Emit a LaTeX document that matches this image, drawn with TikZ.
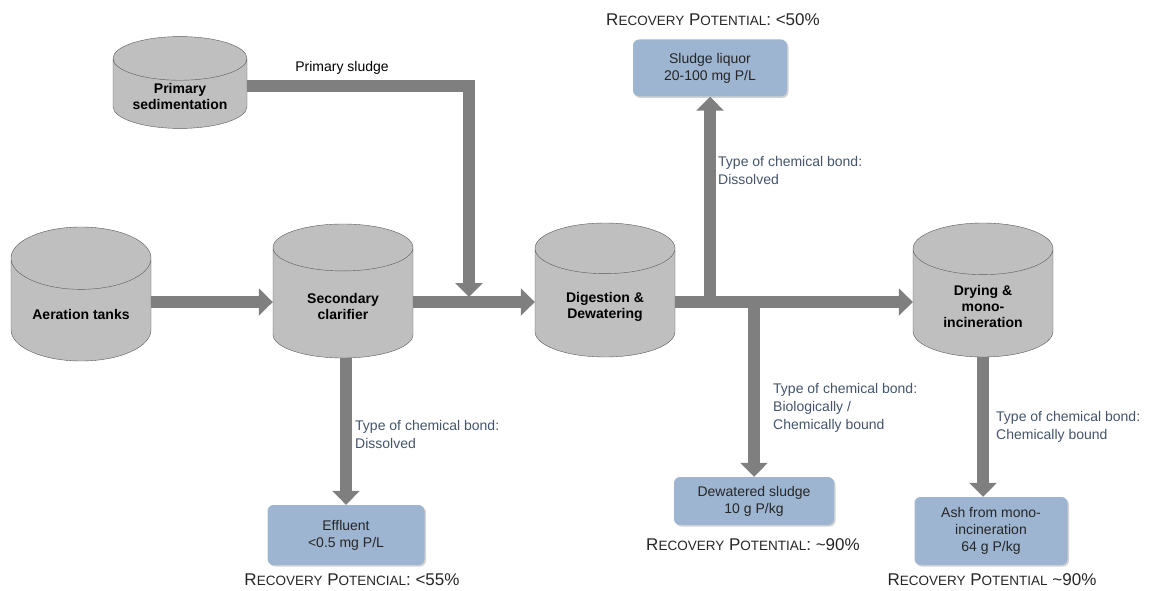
\documentclass[tikz,border=0pt]{standalone}
\usepackage{fontspec}
\setmainfont{Liberation Sans}
\usetikzlibrary{arrows.meta,shapes.geometric,shadows,positioning}
\definecolor{tankgray}{HTML}{BFBFBF}
\definecolor{tankline}{HTML}{595959}
\definecolor{flowgray}{HTML}{7F7F7F}
\definecolor{boxblue}{HTML}{9DB5D1}
\definecolor{bondblue}{HTML}{44546A}
\newcommand{\bigsc}{\fontsize{17}{20}\selectfont}
\newcommand{\smallsc}{\fontsize{13.5}{16}\selectfont}

\begin{document}
\begin{tikzpicture}[x=1pt,y=-1pt,
    tank/.style={cylinder, shape border rotate=90, aspect=0.6, draw=tankline, fill=tankgray,
      minimum width=140pt, minimum height=134pt, align=center,
      font=\fontsize{14}{16}\selectfont\bfseries, anchor=shape center},
    store/.style={rectangle, rounded corners=6pt, fill=boxblue,
      drop shadow={opacity=0.35, shadow xshift=1.5pt, shadow yshift=-1.5pt},
      align=center, font=\fontsize{14}{17}\selectfont, text=black!85},
    bond/.style={anchor=north west, align=left, text=bondblue,
      font=\fontsize{14}{18}\selectfont, inner sep=0pt},
    recov/.style={font=\bigsc, text=black!85},
    flow/.style={draw=flowgray, line width=12pt, -{Triangle[width=27pt,length=14pt]}}]
  \useasboundingbox (0,0) rectangle (1151,591);

  % tanks
  \node[tank, minimum width=134pt, minimum height=89pt, aspect=0.43] (prim) at (180,82.5) {Primary\\sedimentation};
  \node[tank] (aer) at (81,294) {Aeration tanks};
  \node[tank] (sec) at (343,291) {Secondary\\clarifier};
  \node[tank] (dig) at (605,290) {Digestion \&\\Dewatering};
  \node[tank] (dry) at (983,290) {Drying \&\\mono-\\incineration};

  % products
  \node[store, minimum width=154pt, minimum height=57pt] (liquor) at (710,68) {Sludge liquor\\20-100 mg P/L};
  \node[store, minimum width=157pt, minimum height=60pt] (eff) at (346,535) {Effluent\\<0.5 mg P/L};
  \node[store, minimum width=160pt, minimum height=48pt] (dew) at (754,501) {Dewatered sludge\\10 g P/kg};
  \node[store, minimum width=153pt, minimum height=68pt] (ash) at (991,531) {Ash from mono-\\incineration\\64 g P/kg};

  % recovery potential
  \node[recov] (liquorrp) at (713,20) {R{\smallsc ECOVERY} P{\smallsc OTENTIAL}: <50\%};
  \node[recov] (dewrp) at (753,545) {R{\smallsc ECOVERY} P{\smallsc OTENTIAL}: \textasciitilde 90\%};
  \node[recov] (effrp) at (352,580) {R{\smallsc ECOVERY} P{\smallsc OTENCIAL}: <55\%};
  \node[recov] (ashrp) at (992,580) {R{\smallsc ECOVERY} P{\smallsc OTENTIAL} \textasciitilde 90\%};

  % flows
  \coordinate (mainline) at (0,302);
  \coordinate (sludgeline) at (0,86);
  \coordinate (merge) at (469,297);
  \draw[flow] (aer.east |- mainline) -- (sec.west |- mainline);
  \draw[flow] (sec.east |- mainline) -- (dig.west |- mainline);
  \draw[flow] (dig.east |- mainline) -- (dry.west |- mainline);
  \draw[flow] (prim.east |- sludgeline) -| (merge);
  \draw[flow] (liquor.south |- mainline) -- (liquor.south);
  \draw[flow] (dew.north |- mainline) -- (dew.north);
  \draw[flow] (eff.north |- sec.south) -- (eff.north);
  \draw[flow] (dry.south) -- (dry.south |- ash.north);

  % labels
  \node[font=\fontsize{14}{17}\selectfont] (sludgelbl) at (342,68) {Primary sludge};
  \node[bond] (liquorbond) at (718,156) {Type of chemical bond:\\Dissolved};
  \node[bond] (effbond) at (355,420) {Type of chemical bond:\\Dissolved};
  \node[bond] (dewbond) at (773,383) {Type of chemical bond:\\Biologically /\\Chemically bound};
  \node[bond] (ashbond) at (996,411) {Type of chemical bond:\\Chemically bound};
\end{tikzpicture}
\end{document}
